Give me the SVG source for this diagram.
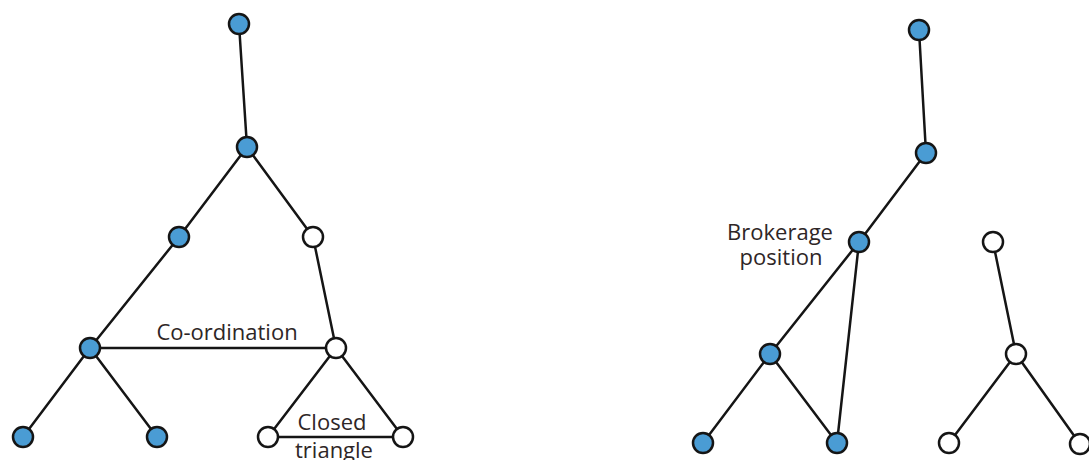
<svg xmlns="http://www.w3.org/2000/svg" width="1089" height="460" viewBox="0 0 1089 460">
  <style>
    .edge { stroke: #151515; stroke-width: 2.5; fill: none; stroke-linecap: round; }
    .blue { fill: #4a9cd4; stroke: #151515; stroke-width: 2.5; }
    .white { fill: #ffffff; stroke: #151515; stroke-width: 2.5; }
    .lbl { font-family: "Open Sans", "Liberation Sans", sans-serif; font-size: 22px; fill: #2e2626; text-anchor: middle; }
  </style>
  <rect width="1089" height="460" fill="#ffffff"/>
  <g id="connectors">
    <line class="edge" x1="239" y1="24" x2="247" y2="147"/>
    <line class="edge" x1="247" y1="147" x2="179" y2="237"/>
    <line class="edge" x1="247" y1="147" x2="313" y2="237"/>
    <line class="edge" x1="179" y1="237" x2="90" y2="348"/>
    <line class="edge" x1="313" y1="237" x2="336" y2="348"/>
    <line class="edge" x1="90" y1="348" x2="336" y2="348"/>
    <line class="edge" x1="90" y1="348" x2="23" y2="437"/>
    <line class="edge" x1="90" y1="348" x2="157" y2="437"/>
    <line class="edge" x1="336" y1="348" x2="268" y2="437"/>
    <line class="edge" x1="336" y1="348" x2="403" y2="437"/>
    <line class="edge" x1="268" y1="437" x2="403" y2="437"/>
    <line class="edge" x1="919" y1="30" x2="926" y2="153"/>
    <line class="edge" x1="926" y1="153" x2="859" y2="242"/>
    <line class="edge" x1="859" y1="242" x2="770" y2="354"/>
    <line class="edge" x1="859" y1="242" x2="837" y2="443"/>
    <line class="edge" x1="770" y1="354" x2="703" y2="443"/>
    <line class="edge" x1="770" y1="354" x2="837" y2="443"/>
    <line class="edge" x1="993" y1="242" x2="1016" y2="354"/>
    <line class="edge" x1="1016" y1="354" x2="949" y2="443"/>
    <line class="edge" x1="1016" y1="354" x2="1080" y2="444"/>
  </g>
  <g id="left-top"><circle class="blue" cx="239" cy="24" r="10"/></g>
  <g id="left-n2"><circle class="blue" cx="247" cy="147" r="10"/></g>
  <g id="left-n3"><circle class="blue" cx="179" cy="237" r="10"/></g>
  <g id="left-n4"><circle class="white" cx="313" cy="237" r="10"/></g>
  <g id="left-n5"><circle class="blue" cx="90" cy="348" r="10"/></g>
  <g id="left-n6"><circle class="white" cx="336" cy="348" r="10"/></g>
  <g id="left-l1"><circle class="blue" cx="23" cy="437" r="10"/></g>
  <g id="left-l2"><circle class="blue" cx="157" cy="437" r="10"/></g>
  <g id="left-l3"><circle class="white" cx="268" cy="437" r="10"/></g>
  <g id="left-l4"><circle class="white" cx="403" cy="437" r="10"/></g>
  <g id="right-top"><circle class="blue" cx="919" cy="30" r="10"/></g>
  <g id="right-n2"><circle class="blue" cx="926" cy="153" r="10"/></g>
  <g id="right-broker"><circle class="blue" cx="859" cy="242" r="10"/></g>
  <g id="right-n4"><circle class="blue" cx="770" cy="354" r="10"/></g>
  <g id="right-l1"><circle class="blue" cx="703" cy="443" r="10"/></g>
  <g id="right-l2"><circle class="blue" cx="837" cy="443" r="10"/></g>
  <g id="white-top"><circle class="white" cx="993" cy="242" r="10"/></g>
  <g id="white-mid"><circle class="white" cx="1016" cy="354" r="10"/></g>
  <g id="white-l1"><circle class="white" cx="949" cy="443" r="10"/></g>
  <g id="white-l2"><circle class="white" cx="1080" cy="444" r="10"/></g>
  <g id="labels">
    <text class="lbl" x="227" y="340">Co-ordination</text>
    <text class="lbl" x="332" y="430">Closed</text>
    <text class="lbl" x="334" y="458">triangle</text>
    <text class="lbl" x="780" y="240">Brokerage</text>
    <text class="lbl" x="781" y="265">position</text>
  </g>
</svg>
